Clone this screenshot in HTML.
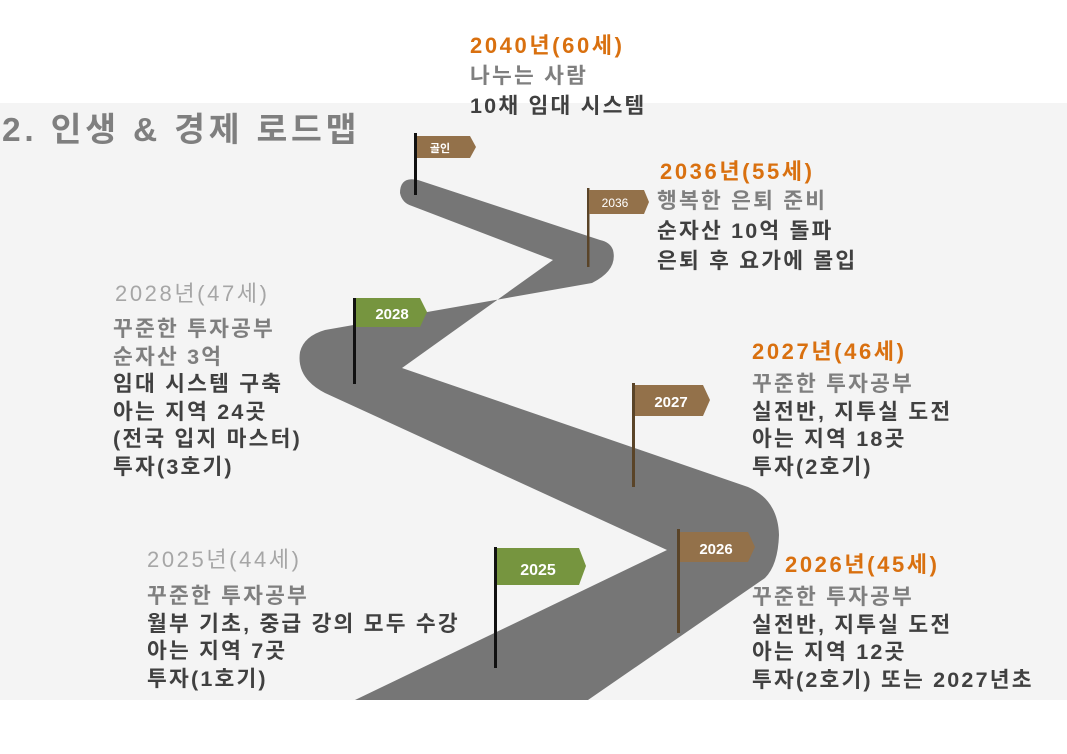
<!DOCTYPE html>
<html><head><meta charset="utf-8"><style>
body{margin:0;width:1067px;height:754px;background:#fff;position:relative;overflow:hidden;font-family:"Liberation Sans","Noto Sans CJK KR",sans-serif}
.panel{position:absolute;left:0;top:103px;width:1067px;height:597px;background:#f4f4f4}
svg{position:absolute;left:0;top:0}
.t{position:absolute;font-size:21.5px;line-height:27.5px;font-weight:700;color:#404040;white-space:nowrap;letter-spacing:2.2px}
.h{font-size:22px;letter-spacing:2.6px}
.o{color:#d9700f}
.g{color:#7f7f7f}
.lg{color:#a6a6a6;font-weight:400}
</style></head><body>
<div class="panel"></div>
<svg width="1067" height="754" viewBox="0 0 1067 754">
<path fill="#767676" d="M355,700 L667,550 L325,393 Q296,378 300,352 Q304,336 325,330 L592,283 Q618,270 613,250 Q610,242 600,240 L418,180 Q400,176 400,193 Q402,203 412,206 L553,260 L402,368 L748,487 Q778,500 779,535 Q778,565 765,578 L588,700 Z"/>
<g font-family="Liberation Sans, Noto Sans CJK KR, sans-serif" font-weight="700" fill="#fff" text-anchor="middle">
<rect x="414" y="133" width="3" height="62" fill="#111"/>
<path d="M417,136 H470 L476,147 L470,158 H417 Z" fill="#93714a"/>
<text x="440" y="152" font-size="11">골인</text>
<rect x="587" y="188" width="2.5" height="79" fill="#5a4428"/>
<path d="M589,190 H644 L649,202 L644,214 H589 Z" fill="#93714a"/>
<text x="615" y="207" font-size="12" font-weight="400">2036</text>
<rect x="353" y="298" width="3" height="86" fill="#111"/>
<path d="M356,298 H420 L427,312 L420,327 H356 Z" fill="#76953f"/>
<text x="392" y="319" font-size="15">2028</text>
<rect x="632" y="383" width="3" height="104" fill="#5a4428"/>
<path d="M635,385 H703 L710,400 L703,416 H635 Z" fill="#93714a"/>
<text x="671" y="407" font-size="15">2027</text>
<rect x="677" y="529" width="3" height="104" fill="#5a4428"/>
<path d="M680,532 H748 L755,547 L748,562 H680 Z" fill="#93714a"/>
<text x="716" y="554" font-size="15">2026</text>
<rect x="494" y="547" width="3" height="121" fill="#111"/>
<path d="M497,548 H579 L586,566 L579,585 H497 Z" fill="#76953f"/>
<text x="538" y="575" font-size="16">2025</text>
</g>
</svg>
<div class="t g" style="left:2px;top:110px;font-size:33.5px;line-height:42px;letter-spacing:3.8px">2. 인생 &amp; 경제 로드맵</div>

<div class="t" style="left:470px;top:31px;line-height:30px"><span class="o h">2040년(60세)</span><br><span class="g">나누는 사람</span><br>10채 임대 시스템</div>

<div class="t" style="left:660px;top:157px;line-height:30px"><span class="o h">2036년(55세)</span></div>
<div class="t" style="left:657px;top:186px;line-height:30px"><span class="g">행복한 은퇴 준비</span><br>순자산 10억 돌파<br>은퇴 후 요가에 몰입</div>

<div class="t lg h" style="left:115px;top:280px">2028년(47세)</div>
<div class="t" style="left:113px;top:316px"><span class="g">꾸준한 투자공부<br>순자산 3억</span><br>임대 시스템 구축<br>아는 지역 24곳<br>(전국 입지 마스터)<br>투자(3호기)</div>

<div class="t o h" style="left:752px;top:338px">2027년(46세)</div>
<div class="t" style="left:752px;top:371px"><span class="g">꾸준한 투자공부</span><br>실전반, 지투실 도전<br>아는 지역 18곳<br>투자(2호기)</div>

<div class="t lg h" style="left:147px;top:546px">2025년(44세)</div>
<div class="t" style="left:147px;top:583px"><span class="g">꾸준한 투자공부</span><br>월부 기초, 중급 강의 모두 수강<br>아는 지역 7곳<br>투자(1호기)</div>

<div class="t o h" style="left:785px;top:551px">2026년(45세)</div>
<div class="t" style="left:752px;top:584px"><span class="g">꾸준한 투자공부</span><br>실전반, 지투실 도전<br>아는 지역 12곳<br>투자(2호기) 또는 2027년초</div>
</body></html>
